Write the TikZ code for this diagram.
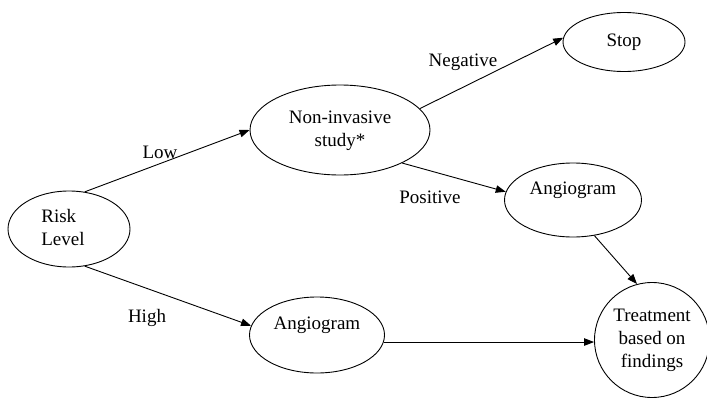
\documentclass[tikz,border=0pt]{standalone}
\usepackage{fontspec}
\setmainfont{Liberation Serif}
\usetikzlibrary{shapes.geometric,arrows.meta}
\begin{document}
\begin{tikzpicture}[x=1pt,y=-1pt,
  every node/.style={font=\fontsize{19}{23}\selectfont},
  oval/.style={ellipse,draw,line width=0.9pt,inner sep=0pt,align=center},
  conn/.style={line width=0.9pt,-{Triangle[length=10pt,width=7.5pt]}},
  lbl/.style={inner sep=0pt}]
\useasboundingbox (0,0) rectangle (707,399);
\node[oval,minimum width=122pt,minimum height=76pt] (risk) at (69,229) {\raisebox{-3pt}{\begin{tabular}{@{}l@{}}Risk\\Level\end{tabular}}\hspace{12pt}};
\node[oval,minimum width=180pt,minimum height=90pt] (non) at (340,130) {\raisebox{-3pt}{\begin{tabular}{@{}c@{}}Non-invasive\\study*\end{tabular}}};
\node[oval,minimum width=122pt,minimum height=59pt] (stop) at (624,42) {Stop};
\node[oval,minimum width=137pt,minimum height=74pt] (ang1) at (573,200) {Angiogram\\[0pt]\phantom{X}};
\node[oval,minimum width=135pt,minimum height=76pt] (ang2) at (317,335) {Angiogram\\[0pt]\phantom{X}};
\node[circle,draw,line width=0.9pt,inner sep=0pt,minimum size=115pt,align=center] (treat) at (652,340) {Treatment\\based on\\findings};
\draw[conn] (risk.67) -- (non.west);
\draw[conn] (risk.-67) -- (ang2.172);
\draw[conn] (non.15) -- (stop.176);
\draw[conn] (non.-28) -- (ang1.173);
\draw[conn] (ang1.-59) -- (treat.105);
\draw[conn] (ang2.-6) -- (ang2.-6 -| treat.west);
\node[lbl] (low) at (160,152) {Low};
\node[lbl] (high) at (147,318) {High};
\node[lbl] (neg) at (463,62) {Negative};
\node[lbl] (pos) at (430,197) {Positive};
\end{tikzpicture}
\end{document}
